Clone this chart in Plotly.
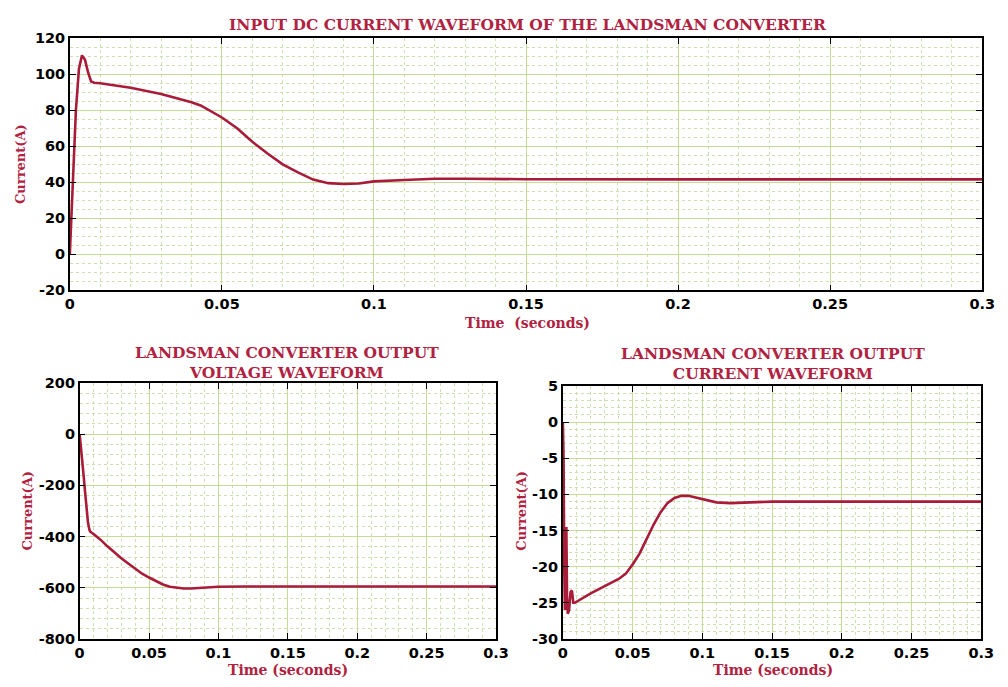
import plotly.graph_objects as go

# Input DC current of the Landsman converter
t_in = [0, 0.001, 0.002, 0.003, 0.004, 0.005, 0.006, 0.007, 0.008, 0.01, 0.02, 0.03,
        0.04, 0.043, 0.05, 0.055, 0.06, 0.065, 0.07, 0.075, 0.08, 0.085, 0.09, 0.095,
        0.1, 0.11, 0.12, 0.13, 0.15, 0.2, 0.25, 0.3]
i_in = [0, 40, 80, 103, 110.5, 108, 101, 96, 95.3, 95, 92.5, 89,
        84.5, 82.7, 76, 70, 62.5, 56, 50, 45.5, 41.5, 39.5, 39, 39.3,
        40.5, 41.3, 42, 42, 41.7, 41.6, 41.6, 41.6]

# Output voltage
t_v = [0, 0.001, 0.002, 0.003, 0.004, 0.005, 0.006, 0.007, 0.0075, 0.01, 0.015, 0.02,
       0.025, 0.03, 0.035, 0.04, 0.045, 0.05, 0.055, 0.06, 0.065, 0.07, 0.075, 0.08,
       0.085, 0.09, 0.1, 0.12, 0.15, 0.2, 0.25, 0.3]
v_out = [0, -50, -110, -170, -230, -290, -345, -372, -380, -390, -412, -438,
         -462, -485, -505, -525, -545, -560, -575, -587, -596, -601, -603, -603,
         -601, -599, -596, -595, -595, -595, -595, -595]

# Output current
t_o = [0, 0.0005, 0.001, 0.0015, 0.002, 0.0025, 0.003, 0.0035, 0.0045, 0.0055, 0.0065,
       0.0075, 0.0085, 0.02, 0.03, 0.04, 0.045, 0.05, 0.055, 0.06, 0.065, 0.07, 0.075,
       0.08, 0.085, 0.09, 0.095, 0.1, 0.105, 0.11, 0.12, 0.13, 0.14, 0.15, 0.2, 0.25, 0.3]
i_out = [0, -5, -20, -26, -22, -14.5, -24, -26.5, -26, -23.5, -23.3,
         -25, -25, -23.7, -22.7, -21.7, -21.0, -19.7, -18.2, -16.2, -14.2, -12.5, -11.2,
         -10.5, -10.2, -10.2, -10.4, -10.6, -10.9, -11.1, -11.2, -11.15, -11.05, -11.0, -11.0, -11.0, -11.0]

x_ticks = [0, 0.05, 0.1, 0.15, 0.2, 0.25, 0.3]
x_labels = ["0", "0.05", "0.1", "0.15", "0.2", "0.25", "0.3"]
y1_ticks = [-20, 0, 20, 40, 60, 80, 100, 120]
y2_ticks = [-800, -600, -400, -200, 0, 200]
y3_ticks = [-30, -25, -20, -15, -10, -5, 0, 5]

LINE = "#a81c3a"
RED = "#b0223f"
MAJOR = "#c4dc98"
MINOR = "#cfe0b0"
W, H = 1008, 687

fig = go.Figure()
fig.add_trace(go.Scatter(x=t_in, y=i_in, mode="lines", line=dict(color=LINE, width=2.6),
                         xaxis="x", yaxis="y", showlegend=False))
fig.add_trace(go.Scatter(x=t_v, y=v_out, mode="lines", line=dict(color=LINE, width=2.6),
                         xaxis="x2", yaxis="y2", showlegend=False))
fig.add_trace(go.Scatter(x=t_o, y=i_out, mode="lines", line=dict(color=LINE, width=2.6),
                         xaxis="x3", yaxis="y3", showlegend=False))

tick_font = dict(family="DejaVu Sans", size=14.5, color="black", weight="bold")


def common():
    return dict(showline=True, linecolor="black", linewidth=1.5,
                mirror="allticks", ticks="inside", ticklen=6, tickcolor="black",
                showgrid=True, gridcolor=MAJOR, gridwidth=1, zeroline=False,
                tickfont=tick_font)


def xaxis(domain, anchor):
    return dict(domain=domain, anchor=anchor, range=[0, 0.3], tickvals=x_ticks,
                ticktext=x_labels,
                minor=dict(dtick=0.01, showgrid=True, gridcolor=MINOR,
                           griddash="dot", gridwidth=1, ticks=""),
                **common())


def yaxis(domain, anchor, ticks, minor):
    return dict(domain=domain, anchor=anchor, range=[ticks[0], ticks[-1]],
                tickvals=ticks, ticktext=[str(v) for v in ticks],
                minor=dict(dtick=minor, tick0=0, showgrid=True, gridcolor=MINOR,
                           griddash="dot", gridwidth=1, ticks=""),
                **common())


def px_x(a, b):
    return [a / W, b / W]


def px_y(top, bottom):
    return [1 - bottom / H, 1 - top / H]


fig.update_layout(
    width=W, height=H, margin=dict(l=0, r=0, t=0, b=0),
    paper_bgcolor="white", plot_bgcolor="white",
    xaxis=xaxis(px_x(66, 995), "y"),
    yaxis=yaxis(px_y(31, 289), "x", y1_ticks, 5),
    xaxis2=xaxis(px_x(76, 500), "y2"),
    yaxis2=yaxis(px_y(384, 646), "x2", y2_ticks, 40),
    xaxis3=xaxis(px_x(568, 994), "y3"),
    yaxis3=yaxis(px_y(387, 646), "x3", y3_ticks, 1),
)

title_font = dict(family="DejaVu Serif", size=15.5, color=RED, weight="bold")
label_font = dict(family="DejaVu Serif", size=14, color=RED, weight="bold")
ylabel_font = dict(family="DejaVu Serif", size=13, color=RED, weight="bold")


def note(text, x, y, font, angle=0):
    fig.add_annotation(text=text, x=x / W, y=1 - y / H, xref="paper", yref="paper",
                       showarrow=False, font=font, textangle=angle,
                       xanchor="center", yanchor="middle")


note("INPUT DC CURRENT WAVEFORM OF THE LANDSMAN CONVERTER", 532, 17, title_font)
note("LANDSMAN CONVERTER OUTPUT<br>VOLTAGE WAVEFORM", 287, 363, title_font)
note("LANDSMAN CONVERTER OUTPUT<br>CURRENT WAVEFORM", 782, 364, title_font)

note("Time  (seconds)", 532, 323, label_font)
note("Time (seconds)", 288, 678, label_font)
note("Time (seconds)", 782, 678, label_font)

note("Current(A)", 16, 160, ylabel_font, -90)
note("Current(A)", 22, 515, ylabel_font, -90)
note("Current(A)", 525, 515, ylabel_font, -90)

fig.write_html("out.html")
